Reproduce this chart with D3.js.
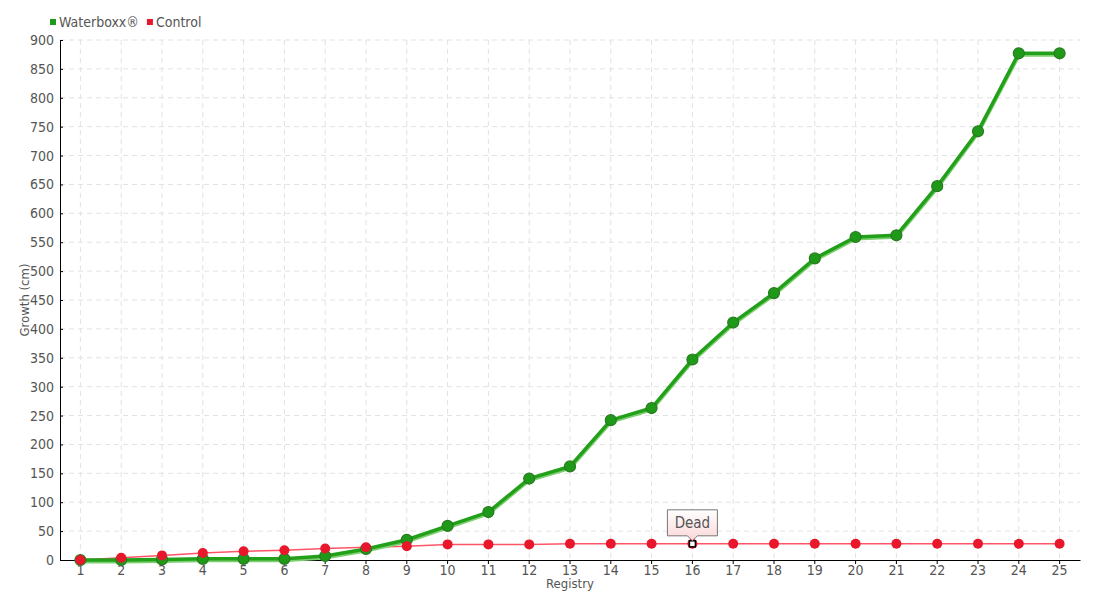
<!DOCTYPE html>
<html><head><meta charset="utf-8">
<script src="https://cdn.jsdelivr.net/npm/d3@7"></script>
<style>
body{margin:0;background:#fff;}
text{font-family:"DejaVu Sans Condensed","Liberation Sans Narrow","Roboto",sans-serif;font-stretch:condensed;fill:#555;}
</style></head>
<body><svg id="c" width="1100" height="600"></svg>
<script>
const categories = ["1","2","3","4","5","6","7","8","9","10","11","12","13","14","15","16","17","18","19","20","21","22","23","24","25"];
const waterboxx = [0,0,1,2,2,2,7,19,35,59,83,141,162,242,263,347,411,462,522,559,562,647,742,877,877];
const control = [0,4,8,12,15,17,20,22,24,27,27,27,28,28,28,28,28,28,28,28,28,28,28,28,28];
const yTicks = [0,50,100,150,200,250,300,350,400,450,500,550,600,650,700,750,800,850,900];
const seriesNames = ["Waterboxx®","Control"];
const annotation = {index:15, label:"Dead"};

const svg = d3.select("#c");
const m = {l:60, r:20, t:40, b:40};
const W = 1100, H = 600;
const x = d3.scaleBand().domain(categories).range([m.l, W - m.r]);
const cx = d => x(d) + x.bandwidth()/2;
const y = d3.scaleLinear().domain([0,900]).range([H - m.b, m.t]);

// grid
const g = svg.append("g");
g.selectAll(".hg").data(yTicks.slice(1)).join("line")
  .attr("x1", m.l).attr("x2", W - m.r).attr("y1", d=>y(d)).attr("y2", d=>y(d))
  .attr("stroke","#e2e2e2").attr("stroke-dasharray","5,4");
g.selectAll(".vg").data(categories).join("line")
  .attr("x1", d=>cx(d)).attr("x2", d=>cx(d)).attr("y1", m.t).attr("y2", H - m.b)
  .attr("stroke","#e2e2e2").attr("stroke-dasharray","5,4");

// axes
const ya = svg.append("g").attr("transform",`translate(${m.l},0)`)
  .call(d3.axisLeft(y).tickValues(yTicks).tickSize(-3).tickPadding(6));
ya.select(".domain").attr("stroke","#000");
ya.selectAll(".tick line").attr("stroke","#000");
ya.selectAll("text").style("font-size","14px").style("fill","#555");

const xa = svg.append("g").attr("transform",`translate(0,${H-m.b})`)
  .call(d3.axisBottom(x).tickSize(4).tickPadding(1).tickSizeOuter(0));
xa.select(".domain").attr("stroke","#000");
xa.selectAll(".tick line").attr("stroke","#000");
xa.selectAll("text").style("font-size","14px").style("fill","#555");

svg.append("text").attr("x", (m.l + W - m.r)/2).attr("y", 588).attr("text-anchor","middle")
  .style("font-size","13px").text("Registry");
svg.append("text").attr("transform","translate(29,300) rotate(-90)").attr("text-anchor","middle")
  .style("font-size","13px").text("Growth (cm)");

// lines
const line = d3.line().x((d,i)=>cx(categories[i])).y(d=>y(d));
svg.append("path").datum(control).attr("d", line).attr("fill","none")
  .attr("stroke","#ff5566").attr("stroke-width",1.5);
svg.append("path").datum(waterboxx).attr("d", line).attr("fill","none")
  .attr("stroke","#7ccf6e").attr("stroke-width",4).attr("transform","translate(0,1.5)");
svg.append("path").datum(waterboxx).attr("d", line).attr("fill","none")
  .attr("stroke","#22a01a").attr("stroke-width",3.5);

svg.selectAll(".gp").data(waterboxx).join("circle")
  .attr("cx",(d,i)=>cx(categories[i])).attr("cy",d=>y(d)).attr("r",5.5)
  .attr("fill","#1e9a18").attr("stroke","#2a7a22").attr("stroke-width",1.2);
svg.selectAll(".rp").data(control).join("circle")
  .attr("cx",(d,i)=>cx(categories[i])).attr("cy",d=>y(d)).attr("r",5)
  .attr("fill","#e8172b");

// annotation
const ax = cx(categories[annotation.index]), ay = y(control[annotation.index]);
svg.append("rect").attr("x",ax-3).attr("y",ay-3).attr("width",6).attr("height",6)
  .attr("fill","#fff").attr("stroke","#000").attr("stroke-width",1.5);
const defs = svg.append("defs");
const gr = defs.append("linearGradient").attr("id","tg").attr("x1",0).attr("x2",0).attr("y1",0).attr("y2",1);
gr.append("stop").attr("offset","0%").attr("stop-color","#ffffff");
gr.append("stop").attr("offset","100%").attr("stop-color","#fbd6d6");
const bw = 50, bh = 26, by = ay - 8 - bh;
svg.append("path")
  .attr("d",`M${ax-bw/2},${by} h${bw} v${bh} h${-(bw/2-5)} l-5,5 l-5,-5 h${-(bw/2-5)} Z`)
  .attr("fill","url(#tg)").attr("stroke","#777").attr("stroke-width",1);
svg.append("text").attr("x",ax).attr("y",by+18).attr("text-anchor","middle")
  .style("font-size","15px").text(annotation.label);

// legend
const lg = svg.append("g");
const colors = ["#1e9a18","#e8172b"];
let lx = 50;
seriesNames.forEach((n,i)=>{
  lg.append("rect").attr("x",lx).attr("y",19).attr("width",6).attr("height",6).attr("fill",colors[i]);
  const t = lg.append("text").attr("x",lx+9).attr("y",27).style("font-size","14px").text(n);
  lx += 9 + t.node().getComputedTextLength() + 8;
});
</script></body></html>
